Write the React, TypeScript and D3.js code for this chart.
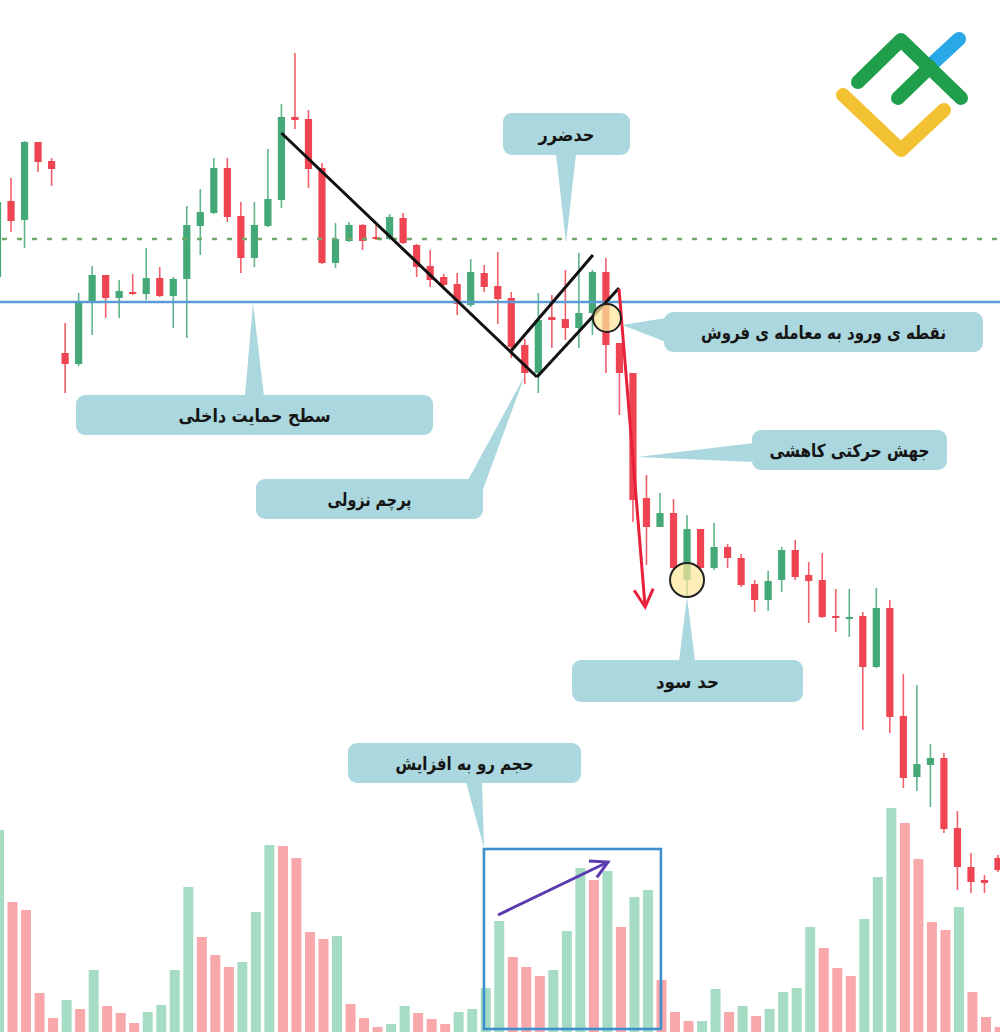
import React from 'react';
import * as d3 from 'd3';

// ---- Candle data (price units) ----
const opens = [72.3,79.9,78.0,85.8,83.9,64.7,63.6,69.8,72.5,70.2,70.8,70.6,72.2,70.4,72.1,77.4,78.7,83.2,78.4,74.2,77.4,80.0,88.3,88.1,83.2,73.7,75.9,77.5,76.3,76.1,78.2,75.5,73.4,72.3,71.6,69.5,72.7,71.4,70.2,65.5,62.7,68.3,68.1,67.2,68.7,72.8,65.7,62.7,50.2,47.3,48.7,42.0,47.1,43.2,45.3,44.2,41.6,40.0,42.0,45.0,42.5,42.0,38.4,38.1,38.4,33.3,39.2,28.4,22.3,23.5,24.2,17.2,13.3,12.0,14.2];
const highs = [80.5,82.2,85.9,85.8,84.2,67.7,70.7,73.4,72.5,72.0,72.6,75.2,73.3,72.3,79.4,81.1,84.2,84.2,79.8,79.8,85.1,89.6,94.7,89.0,83.7,77.7,77.8,77.6,77.5,78.6,78.7,75.6,75.0,72.6,72.7,74.1,73.5,74.8,70.8,66.1,70.7,70.5,73.0,74.7,73.0,74.2,65.7,62.7,52.5,50.7,50.1,48.5,47.1,47.7,45.6,44.6,42.0,42.9,45.3,46.0,43.8,44.7,41.1,41.1,38.8,41.2,40.0,32.6,31.5,25.6,24.7,18.9,14.7,12.5,14.5];
const lows = [71.8,76.8,75.2,82.8,81.4,60.7,63.4,66.5,68.2,68.2,70.5,70.0,70.3,67.2,66.2,74.5,78.6,77.8,72.7,73.3,77.3,79.2,87.1,81.2,73.6,73.2,75.8,75.0,76.0,76.0,75.6,72.3,71.3,71.4,68.5,69.3,70.8,67.6,64.2,61.6,60.7,65.2,66.0,65.2,66.5,62.7,58.5,47.8,43.5,47.3,43.1,40.2,43.0,43.0,43.2,41.3,38.8,38.9,40.8,42.0,37.7,38.2,36.8,36.3,27.0,33.2,26.7,21.2,20.9,19.3,16.7,11.0,10.7,10.7,12.8];
const closes = [79.8,77.9,85.8,83.8,83.1,63.6,69.8,72.5,70.2,70.9,70.6,72.2,70.4,72.1,77.5,78.8,83.2,78.3,74.2,77.5,80.1,88.3,88.0,83.1,73.7,76.1,77.5,75.9,76.1,78.3,75.7,73.3,72.0,71.5,69.6,72.8,71.3,70.1,65.3,62.7,68.0,68.0,67.2,68.7,72.8,65.5,62.7,50.0,47.3,48.7,43.2,47.1,43.2,45.3,44.2,41.5,40.0,41.9,45.0,42.3,41.9,38.3,38.2,38.3,33.3,39.2,28.3,22.2,23.6,24.2,17.1,13.3,11.8,11.7,13.0];

// ---- Volume data ----
const volumes = [202,130,122,39,14,32,23,62,26,19,9,20,27,62,145,95,77,65,70,120,187,186,174,100,93,96,28,14,5,8,26,19,13,8,20,23,44,111,75,65,56,62,101,164,152,161,105,135,142,52,20,11,11,43,20,26,16,23,40,44,105,84,64,56,113,155,224,209,173,110,102,125,40,15,5];
const volUp = [1,0,0,0,0,1,0,1,0,0,0,1,1,1,1,0,0,0,1,1,1,0,0,0,0,1,0,0,0,1,1,0,0,0,1,1,1,1,0,0,0,1,1,1,0,1,0,1,1,0,0,0,1,1,0,1,0,1,1,1,1,0,0,0,1,1,1,0,0,0,0,1,0,0,0];

// ---- Levels & annotations (index / price) ----
const supportLevel = 69.8;
const stopLevel = 76.1;
const flagPole = [[21, 86.7], [39.9, 62.3]];
const flagLower = [[39.9, 62.3], [45.97, 71.2]];
const flagUpper = [[37.98, 64.9], [44.04, 74.5]];
const dropArrow = [[45.97, 71.1], [47.9, 39.3]];
const circles = [[45.08, 68.2, 14], [51.0, 42.0, 17]];
const volArrow = [[37.02, 117], [45.15, 170]];
const volBox = [35.98, 49.07, 183];

const callouts = [
  { text: 'حدضرر', tw: 56, x: 503, y: 113, w: 127, h: 42, ptr: [[556, 154], [576, 154], [566, 243]] },
  { text: 'نقطه ی ورود به معامله ی فروش', tw: 245, x: 664, y: 312, w: 319, h: 40, ptr: [[666, 318], [666, 342], [622, 325]] },
  { text: 'جهش حرکتی کاهشی', tw: 160, x: 752, y: 430, w: 195, h: 40, ptr: [[754, 443], [754, 462], [637, 457]] },
  { text: 'سطح حمایت داخلی', tw: 152, x: 76, y: 395, w: 357, h: 40, ptr: [[245, 396], [264, 396], [253, 303]] },
  { text: 'پرچم نزولی', tw: 84, x: 256, y: 479, w: 227, h: 40, ptr: [[468, 480], [482, 492], [525, 375]] },
  { text: 'حد سود', tw: 63, x: 572, y: 660, w: 231, h: 42, ptr: [[679, 661], [695, 661], [687, 597]] },
  { text: 'حجم رو به افزایش', tw: 138, x: 348, y: 743, w: 233, h: 40, ptr: [[466, 782], [482, 782], [484, 848]] },
];

const GREEN = '#45a877';
const RED = '#ef4452';
const VGREEN = '#a7dcc4';
const VRED = '#f8a7aa';

export default function App() {
  const W = 1000, H = 1032;
  const x = d3.scaleLinear().domain([0, 74]).range([-2.5, 998]);
  const y = d3.scaleLinear().domain([0, 100]).range([1000, 0]);
  const v = d3.scaleLinear().domain([0, 250]).range([1032, 782]);
  const line = d3.line<number[]>().x(d => x(d[0])).y(d => y(d[1]));
  const bodyW = 7.2;
  const volW = 10;

  const arrowHead = (x1: number, y1: number, x2: number, y2: number, len: number, ang: number) => {
    const a = Math.atan2(y2 - y1, x2 - x1);
    const p1 = [x2 - len * Math.cos(a - ang), y2 - len * Math.sin(a - ang)];
    const p2 = [x2 - len * Math.cos(a + ang), y2 - len * Math.sin(a + ang)];
    return `M${p1[0]},${p1[1]} L${x2},${y2} L${p2[0]},${p2[1]}`;
  };

  const dA = dropArrow.map(d => [x(d[0]), y(d[1])]);
  const vA = volArrow.map(d => [x(d[0]), v(d[1])]);

  return (
    <svg width={W} height={H} style={{ position: 'absolute', left: 0, top: 0, background: '#fff' }}
      fontFamily="'DejaVu Sans', sans-serif">
      <rect x={0} y={0} width={W} height={H} fill="#fff" />
      {/* volume */}
      <g>
        {volumes.map((val, i) => (
          <rect key={i} x={x(i) + 1.5 - volW / 2} y={v(val)} width={volW} height={v(0) - v(val)}
            fill={volUp[i] ? VGREEN : VRED} />
        ))}
      </g>
      {/* candles */}
      <g>
        {opens.map((o, i) => {
          const c = closes[i];
          const col = c >= o ? GREEN : RED;
          const top = y(Math.max(o, c));
          const h = Math.max(1.8, Math.abs(y(o) - y(c)));
          return (
            <g key={i}>
              <line x1={x(i)} x2={x(i)} y1={y(highs[i])} y2={y(lows[i])} stroke={col} strokeWidth={1.6} opacity={0.85} />
              <rect x={x(i) - bodyW / 2} y={top} width={bodyW} height={h} fill={col} />
            </g>
          );
        })}
      </g>
      {/* levels */}
      <line x1={0} x2={W} y1={y(stopLevel)} y2={y(stopLevel)} stroke="#72a86c" strokeWidth={2.6} strokeDasharray="5,10" strokeDashoffset={-2} />
      <line x1={0} x2={W} y1={y(supportLevel)} y2={y(supportLevel)} stroke="#5b9bd5" strokeWidth={2.6} />
      {/* flag lines */}
      <path d={line(flagPole as any) || ''} stroke="#111" strokeWidth={3} fill="none" />
      <path d={line(flagLower as any) || ''} stroke="#111" strokeWidth={3} fill="none" />
      <path d={line(flagUpper as any) || ''} stroke="#111" strokeWidth={3} fill="none" />
      {/* drop arrow */}
      <line x1={dA[0][0]} y1={dA[0][1]} x2={dA[1][0]} y2={dA[1][1]} stroke="#e8213a" strokeWidth={3} />
      <path d={arrowHead(dA[0][0], dA[0][1], dA[1][0], dA[1][1], 20, 0.5)} stroke="#e8213a" strokeWidth={3} fill="none" />
      {/* circles */}
      {circles.map((c, i) => (
        <circle key={i} cx={x(c[0])} cy={y(c[1])} r={c[2]} fill="#fbe79a" fillOpacity={0.72} stroke="#222" strokeWidth={2} />
      ))}
      {/* volume box & arrow */}
      <rect x={x(volBox[0])} y={v(volBox[2])} width={x(volBox[1]) - x(volBox[0])} height={1029 - v(volBox[2])}
        fill="none" stroke="#3d8fcc" strokeWidth={2.6} />
      <line x1={vA[0][0]} y1={vA[0][1]} x2={vA[1][0]} y2={vA[1][1]} stroke="#5a3bb0" strokeWidth={3} />
      <path d={arrowHead(vA[0][0], vA[0][1], vA[1][0], vA[1][1], 19, 0.5)} stroke="#5a3bb0" strokeWidth={3} fill="none" />
      {/* callouts */}
      {callouts.map((c, i) => (
        <g key={i}>
          <polygon points={c.ptr.map(p => p.join(',')).join(' ')} fill="#abd7de" />
          <rect x={c.x} y={c.y} width={c.w} height={c.h} rx={9} fill="#abd7de" />
          <text x={c.x + c.w / 2} y={c.y + c.h / 2 + 7} textAnchor="middle" fontSize={18} fontWeight="bold" fill="#151515"
            textLength={c.tw} lengthAdjust="spacingAndGlyphs">{c.text}</text>
        </g>
      ))}
      {/* logo */}
      <g fill="none" strokeLinecap="round" strokeLinejoin="round" strokeWidth={14}>
        <path d="M933,63 L959,39" stroke="#2aa7e6" />
        <path d="M858,82 L901,40 L961,98" stroke="#1f9e4b" />
        <path d="M898,98 L930,67" stroke="#1f9e4b" />
        <path d="M843,95 L901,150 L944,110" stroke="#f2c232" />
      </g>
    </svg>
  );
}
